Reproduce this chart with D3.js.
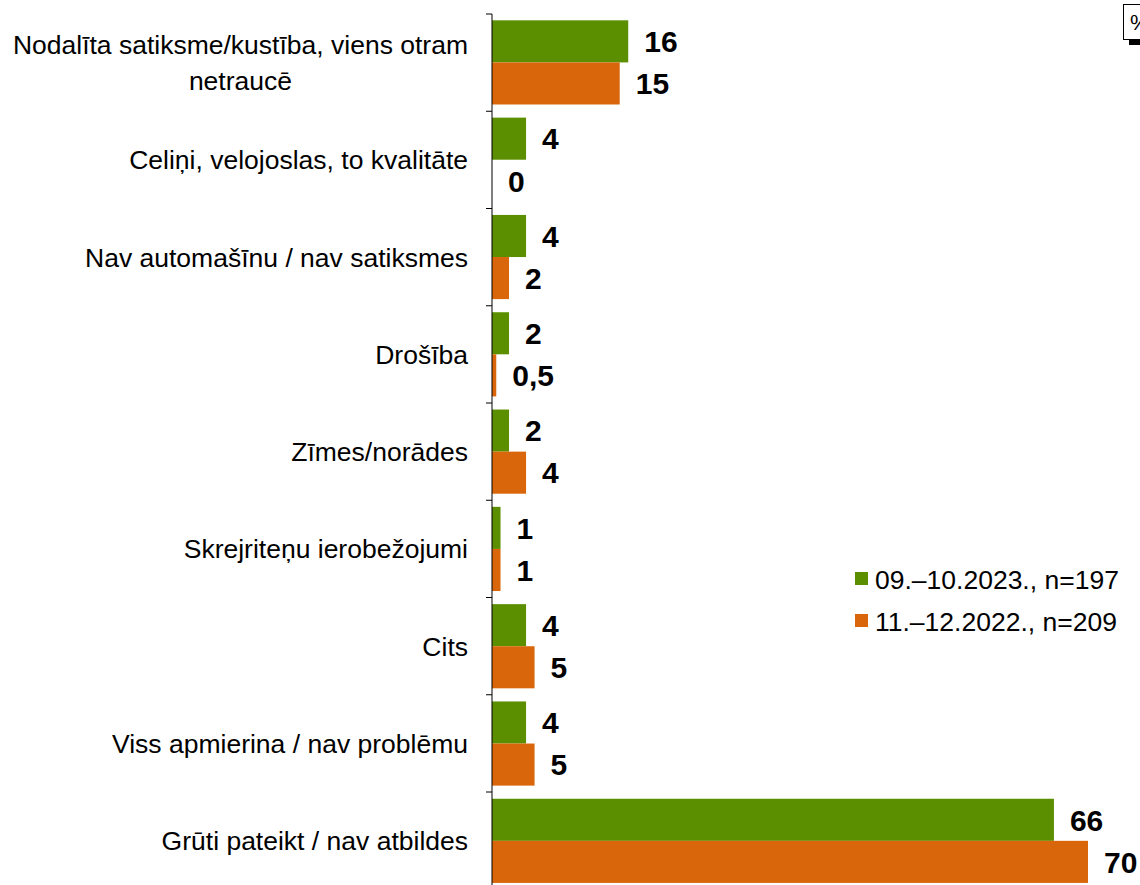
<!DOCTYPE html>
<html>
<head>
<meta charset="utf-8">
<script src="https://cdn.jsdelivr.net/npm/d3@7"></script>
<style>
  body { margin: 0; background: #fff; }
  svg { display: block; font-family: "Liberation Sans", Arial, sans-serif; }
</style>
</head>
<body>
<div id="chart"></div>
<script>
// categories (multi-line labels split by \n)
const categories = [
    "Nodalīta satiksme/kustība, viens otram\nnetraucē",
    "Celiņi, velojoslas, to kvalitāte",
    "Nav automašīnu / nav satiksmes",
    "Drošība",
    "Zīmes/norādes",
    "Skrejriteņu ierobežojumi",
    "Cits",
    "Viss apmierina / nav problēmu",
    "Grūti pateikt / nav atbildes"
];
const seriesNames = ["09.–10.2023., n=197", "11.–12.2022., n=209"];
const values2023 = [16, 4, 4, 2, 2, 1, 4, 4, 66];
const values2022 = [15, 0, 2, 0.5, 4, 1, 5, 5, 70];
const colors = ["#5b8f00", "#d9660a"];

const W = 1140, H = 885;
const axisX = 492, topY = 14, band = 97.25;

const svg = d3.select("#chart").append("svg")
    .attr("width", W)
    .attr("height", H);

const y = d3.scaleBand()
    .domain(categories)
    .range([topY, topY + band * categories.length])
    .paddingInner(0.135)
    .paddingOuter(0.065);

const sub = d3.scaleBand()
    .domain([0, 1])
    .range([0, y.bandwidth()]);

const x = d3.scaleLinear()
    .domain([0, 70])
    .range([axisX, axisX + 596]);

const series = [values2023, values2022];

// bars
series.forEach((vals, s) => {
    svg.append("g").selectAll("rect")
        .data(vals)
        .join("rect")
        .attr("x", x(0))
        .attr("y", (d, i) => y(categories[i]) + sub(s))
        .attr("width", d => x(d) - x(0))
        .attr("height", sub.bandwidth())
        .attr("fill", colors[s]);

    svg.append("g").selectAll("text")
        .data(vals)
        .join("text")
        .attr("x", d => x(d) + 16)
        .attr("y", (d, i) => y(categories[i]) + sub(s) + sub.bandwidth() / 2)
        .attr("dy", "0.36em")
        .attr("font-size", 30)
        .attr("font-weight", "bold")
        .attr("fill", "#000")
        .text(d => String(d).replace(".", ","));
});

// vertical axis with ticks between categories
const yAxis = svg.append("g");
yAxis.append("line")
    .attr("x1", axisX).attr("x2", axisX)
    .attr("y1", topY).attr("y2", H)
    .attr("stroke", "#000").attr("stroke-width", 1);
yAxis.selectAll("line.tick")
    .data(d3.range(categories.length))
    .join("line")
    .attr("class", "tick")
    .attr("x1", axisX - 6).attr("x2", axisX)
    .attr("y1", i => topY + band * i).attr("y2", i => topY + band * i)
    .attr("stroke", "#000");

// category labels
categories.forEach((c, i) => {
    const lines = c.split("\n");
    const cy = topY + band * i + band / 2;
    const lh = 36;
    const t = svg.append("text")
        .attr("font-size", 26.5)
        .attr("fill", "#000");
    const spans = lines.map(l => t.append("tspan").text(l));
    // right aligned block, lines centred within it
    const widths = spans.map(ts => ts.node().getComputedTextLength());
    const maxW = d3.max(widths);
    const right = 468;
    spans.forEach((ts, k) => {
        ts.attr("x", right - maxW / 2)
          .attr("text-anchor", "middle")
          .attr("y", cy + (k - (lines.length - 1) / 2) * lh)
          .attr("dy", "0.36em");
    });
});

// legend
const legend = svg.append("g").attr("transform", "translate(855,572)");
seriesNames.forEach((n, i) => {
    legend.append("rect")
        .attr("x", 0).attr("y", i * 42)
        .attr("width", 13).attr("height", 13)
        .attr("fill", colors[i]);
    legend.append("text")
        .attr("x", 20).attr("y", i * 42 + 7)
        .attr("dy", "0.36em")
        .attr("font-size", 26.5)
        .attr("fill", "#000")
        .text(n);
});

// "%" box top right
svg.append("rect")
    .attr("x", 1129).attr("y", 9).attr("width", 30).attr("height", 36)
    .attr("fill", "#000");
svg.append("rect")
    .attr("x", 1123.5).attr("y", 4.5).attr("width", 30).attr("height", 35)
    .attr("fill", "#fff").attr("stroke", "#000");
svg.append("text")
    .attr("x", 1130).attr("y", 30)
    .attr("font-size", 22)
    .text("%");
</script>
</body>
</html>
